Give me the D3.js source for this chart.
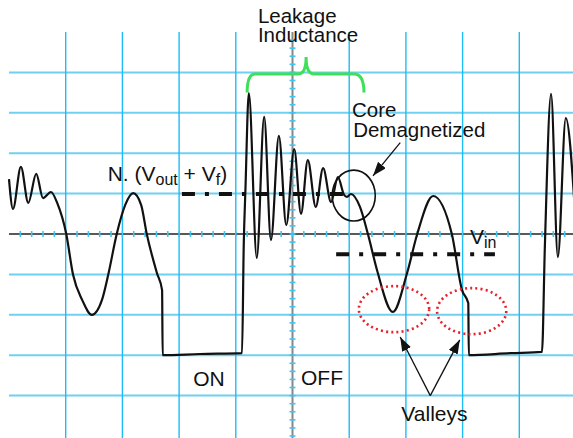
<!DOCTYPE html>
<meta charset="utf-8">
<script src="https://d3js.org/d3.v7.min.js"></script>
<style>
  body { margin: 0; background: #fff; }
  text { font-family: "Liberation Sans", Arial, sans-serif; fill: #111; }
</style>
<div id="scope"></div>
<script>
// waveform, in screen divisions (time across, volts up)
const waveT = [0, 0.07, 0.21, 0.34, 0.48, 0.60, 0.74, 0.85, 1.01, 1.13, 1.29, 1.46, 1.64, 1.75, 1.90,
  2.05, 2.19, 2.33, 2.43, 2.61, 2.70, 2.71, 3.37, 4.11, 4.14, 4.17, 4.23, 4.37, 4.50, 4.62, 4.76,
  4.89, 5.03, 5.15, 5.27, 5.41, 5.54, 5.68, 5.80, 5.91, 5.96, 6.03, 6.19, 6.33, 6.49, 6.77, 7.02,
  7.20, 7.48, 7.81, 7.99, 8.10, 8.11, 8.84, 9.40, 9.45, 9.56, 9.68, 9.82, 9.98];
const waveV = [1.36, 0.62, 1.66, 0.77, 1.49, 0.89, 1.04, 0.77, 0, -1.01, -1.63, -2.00, -1.63, -1.01, 0,
  0.72, 1.01, 0.72, 0, -0.97, -1.39, -3.00, -2.97, -2.95, -0.27, 1.10, 3.49, -0.59, 2.90, -0.15, 2.43,
  0.22, 2.10, 0.50, 1.83, 0.67, 1.63, 0.79, 1.41, 0.97, 0.92, 0.99, 0.67, 0, -0.89, -1.93, -0.97,
  0, 0.94, 0, -1.39, -1.71, -3.00, -2.95, -2.92, -0.35, 3.47, -0.57, 2.87, 0.60];

// reference levels
const nLevel = 0.99, nFrom = 3.05, nTo = 5.89;
const vinLevel = -0.50, vinFrom = 5.77, vinTo = 8.57;

// marked regions
const circleCore = {t: 6.08, v: 0.95, rt: 0.38, rv: 0.63};
const valleys = [{t: 6.79, v: -1.86, rt: 0.62, rv: 0.57}, {t: 8.16, v: -1.91, rt: 0.61, rv: 0.57}];

const width = 573, height = 438;
const x = d3.scaleLinear().domain([0, 10]).range([9, 576]);
const y = d3.scaleLinear().domain([-5, 5]).range([436, 32]);

const svg = d3.select("#scope").append("svg")
  .attr("width", width).attr("height", height);

const defs = svg.append("defs");
defs.append("marker")
  .attr("id", "head")
  .attr("viewBox", "0 0 14 10")
  .attr("refX", 14).attr("refY", 5)
  .attr("markerWidth", 14).attr("markerHeight", 10)
  .attr("markerUnits", "userSpaceOnUse")
  .attr("orient", "auto")
  .append("path").attr("d", "M0,0L14,5L0,10z").attr("fill", "#111");

// grid
const divs = d3.range(1, 10);
svg.selectAll(".hgrid").data(divs.filter(d => d !== 5)).join("line")
  .attr("x1", x(0)).attr("x2", width)
  .attr("y1", d => y(d - 5)).attr("y2", d => y(d - 5))
  .attr("stroke", "#6fd0f0").attr("stroke-width", 2);
svg.selectAll(".vgrid").data(divs.filter(d => d !== 5)).join("line")
  .attr("x1", d => x(d)).attr("x2", d => x(d))
  .attr("y1", y(5)).attr("y2", height)
  .attr("stroke", "#1ebcf5").attr("stroke-width", 1.4);

// centre axes with minor ticks
svg.append("line")
  .attr("x1", x(0)).attr("x2", width).attr("y1", y(0)).attr("y2", y(0))
  .attr("stroke", "#222").attr("stroke-width", 1.4);
svg.append("line")
  .attr("x1", x(5)).attr("x2", x(5)).attr("y1", y(5)).attr("y2", height)
  .attr("stroke", "#888").attr("stroke-width", 2);
svg.selectAll(".xt").data(d3.range(0.2, 10, 0.2)).join("line")
  .attr("x1", d => x(d)).attr("x2", d => x(d))
  .attr("y1", y(0) - 3).attr("y2", y(0) + 3)
  .attr("stroke", "#3cc6f5").attr("stroke-width", 1.6);
svg.selectAll(".yt").data(d3.range(-5, 5, 0.2)).join("line")
  .attr("x1", x(5) - 3).attr("x2", x(5) + 3)
  .attr("y1", d => y(d)).attr("y2", d => y(d))
  .attr("stroke", "#3cc6f5").attr("stroke-width", 1.6);

// dash-dot levels
function level(v, a, b) {
  svg.append("line")
    .attr("x1", x(a)).attr("x2", x(b)).attr("y1", y(v)).attr("y2", y(v))
    .attr("stroke", "#111").attr("stroke-width", 4)
    .attr("stroke-dasharray", "13,10,4,10");
}
level(nLevel, nFrom, nTo);
level(vinLevel, vinFrom, vinTo);

// waveform
const pts = waveT.map((t, i) => [t, waveV[i]]);
svg.append("path")
  .datum(pts)
  .attr("fill", "none")
  .attr("stroke", "#111")
  .attr("stroke-width", 2.2)
  .attr("stroke-linejoin", "round")
  .attr("d", d3.line().x(d => x(d[0])).y(d => y(d[1])).curve(d3.curveMonotoneX));

// green brace over leakage ringing
const bl = x(4.20), br = x(6.26), bm = x(5.24), by = y(3.96), be = y(3.50), bt = y(4.38);
svg.append("path")
  .attr("d", `M${bl},${be} Q${bl},${by} ${bl + 8},${by} L${bm - 8},${by} Q${bm},${by} ${bm},${bt}` +
    ` Q${bm},${by} ${bm + 8},${by} L${br - 10},${by} Q${br},${by} ${br},${be}`)
  .attr("fill", "none").attr("stroke", "#3ee05a").attr("stroke-width", 3);

// core circle
svg.append("ellipse")
  .attr("cx", x(circleCore.t)).attr("cy", y(circleCore.v))
  .attr("rx", x(circleCore.rt) - x(0)).attr("ry", y(0) - y(circleCore.rv))
  .attr("fill", "none").attr("stroke", "#111").attr("stroke-width", 1.6);

// valley ellipses
svg.selectAll(".valley").data(valleys).join("ellipse")
  .attr("cx", d => x(d.t)).attr("cy", d => y(d.v))
  .attr("rx", d => x(d.rt) - x(0)).attr("ry", d => y(0) - y(d.rv))
  .attr("fill", "none").attr("stroke", "#e8202a").attr("stroke-width", 2.6)
  .attr("stroke-dasharray", "2,3.2");

// arrows
function arrow(t1, v1, t2, v2) {
  svg.append("line")
    .attr("x1", x(t1)).attr("y1", y(v1)).attr("x2", x(t2)).attr("y2", y(v2))
    .attr("stroke", "#111").attr("stroke-width", 1.3)
    .attr("marker-end", "url(#head)");
}
arrow(6.90, 2.26, 6.42, 1.44);
arrow(7.43, -4.00, 6.90, -2.55);
arrow(7.43, -4.00, 7.95, -2.62);

// labels
function label(t, v, str, size) {
  return svg.append("text")
    .attr("x", x(t)).attr("y", y(v))
    .attr("font-size", size || 21)
    .text(str);
}
label(4.39, 5.22, "Leakage", 20.5);
label(4.39, 4.75, "Inductance", 20.5);
label(6.05, 2.90, "Core", 20.5);
label(6.07, 2.40, "Demagnetized", 20.5);
label(3.25, -3.75, "ON");
label(5.15, -3.73, "OFF");
label(6.92, -4.64, "Valleys");

const nl = svg.append("text").attr("x", x(1.74)).attr("y", y(1.31)).attr("font-size", 21);
nl.append("tspan").text("N. (V");
nl.append("tspan").attr("font-size", 16).attr("dy", 4).text("out");
nl.append("tspan").attr("dy", -4).text(" + V");
nl.append("tspan").attr("font-size", 16).attr("dy", 4).text("f");
nl.append("tspan").attr("dy", -4).text(")");

const vl = svg.append("text").attr("x", x(8.13)).attr("y", y(-0.25)).attr("font-size", 21);
vl.append("tspan").text("V");
vl.append("tspan").attr("font-size", 16).attr("dy", 4).text("in");
</script>
